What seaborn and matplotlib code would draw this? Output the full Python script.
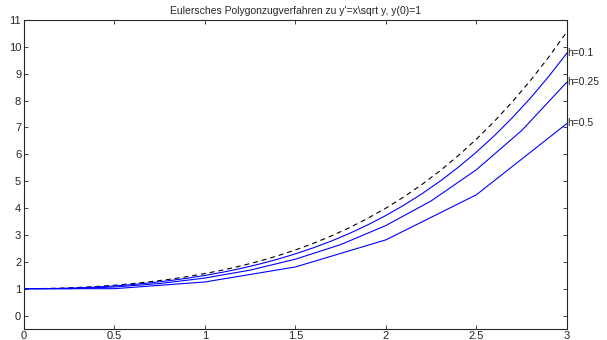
import numpy as np
import pandas as pd
import matplotlib
matplotlib.use("Agg")
import matplotlib.pyplot as plt
import seaborn as sns
from matplotlib.ticker import FormatStrFormatter

# exact solution (dashed), sampled every 0.1
x_exact = [0.0, 0.1, 0.2, 0.3, 0.4, 0.5, 0.6, 0.7, 0.8, 0.9, 1.0,
           1.1, 1.2, 1.3, 1.4, 1.5, 1.6, 1.7, 1.8, 1.9, 2.0,
           2.1, 2.2, 2.3, 2.4, 2.5, 2.6, 2.7, 2.8, 2.9, 3.0]
y_exact = [1.0, 1.005, 1.0201, 1.0455, 1.0816, 1.1289, 1.1881, 1.26, 1.3456, 1.446, 1.5625,
           1.6965, 1.8496, 2.0235, 2.2201, 2.4414, 2.6896, 2.967, 3.2761, 3.6195, 4.0,
           4.4205, 4.8841, 5.394, 5.9536, 6.5664, 7.2361, 7.9665, 8.7616, 9.6255, 10.5625]

# Euler polygons
x_h01 = x_exact
y_h01 = [1.0, 1.0, 1.01, 1.0301, 1.0605, 1.1017, 1.1542, 1.2187, 1.296, 1.387, 1.493,
         1.6152, 1.755, 1.914, 2.0938, 2.2964, 2.5237, 2.7779, 3.0613, 3.3762, 3.7253,
         4.1113, 4.5371, 5.0057, 5.5203, 6.0842, 6.7009, 7.3739, 8.1071, 8.9043, 9.7697]

x_h025 = [0.0, 0.25, 0.5, 0.75, 1.0, 1.25, 1.5, 1.75, 2.0, 2.25, 2.5, 2.75, 3.0]
y_h025 = [1.0, 1.0, 1.0625, 1.1913, 1.396, 1.6914, 2.0978, 2.6409, 3.3519, 4.2673, 5.4293, 6.8856, 8.6897]

x_h05 = [0.0, 0.5, 1.0, 1.5, 2.0, 2.5, 3.0]
y_h05 = [1.0, 1.0, 1.25, 1.809, 2.818, 4.497, 7.148]

labels = ["h=0.1", "h=0.25", "h=0.5"]

sns.set_style("ticks")
plt.rcParams["font.family"] = ["Liberation Sans", "DejaVu Sans"]
plt.rcParams["xtick.direction"] = "in"
plt.rcParams["ytick.direction"] = "in"

fig = plt.figure(figsize=(6.07, 3.40), dpi=100)
ax = fig.add_axes([0.0395, 0.0324, 0.8945, 0.9088])

sns.lineplot(x=x_exact, y=y_exact, ax=ax, color="black", linestyle=(0, (4.5, 3.5)), linewidth=0.8)
euler = [(x_h01, y_h01), (x_h025, y_h025), (x_h05, y_h05)]
for (xs, ys), lab in zip(euler, labels):
    sns.lineplot(x=xs, y=ys, ax=ax, color="blue", linewidth=0.8)
    ax.text(xs[-1], ys[-1], lab, ha="left", va="center", fontsize=7.5, clip_on=False)

ax.set_xlim(0, 3)
ax.set_ylim(-0.5, 11)
ax.set_xticks(np.arange(0, 3.01, 0.5))
ax.set_yticks(range(0, 12))
ax.xaxis.set_major_formatter(FormatStrFormatter("%g"))
ax.tick_params(axis="both", labelsize=8, length=3, width=0.6, pad=2,
               top=True, right=True)
ax.tick_params(axis="x", pad=1.5)
for sp in ax.spines.values():
    sp.set_visible(True)
    sp.set_linewidth(0.8)
ax.set_title("Eulersches Polygonzugverfahren zu y'=x\\sqrt y, y(0)=1", fontsize=7.5, pad=4)

fig.savefig("out.png", dpi=100)
